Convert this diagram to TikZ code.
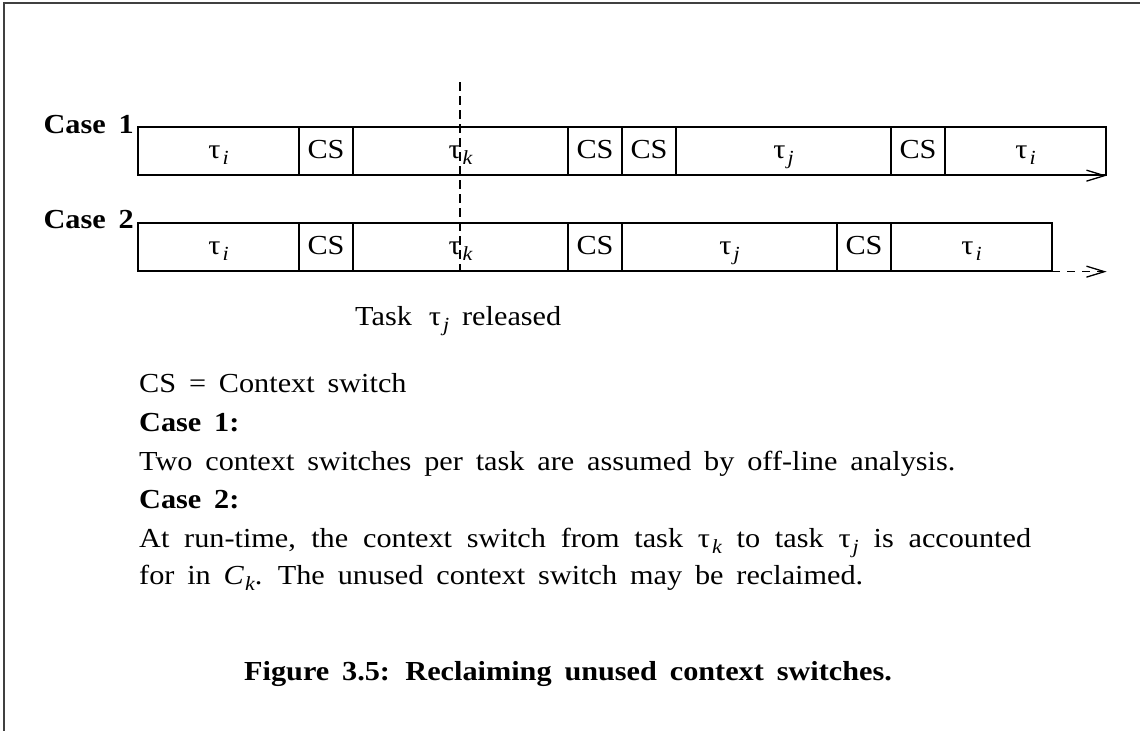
\documentclass[tikz,border=0pt]{standalone}
\usepackage{fontspec}
\setmainfont{Liberation Serif}[FakeStretch=1.1, WordSpace=1.7]
\usetikzlibrary{arrows.meta}

% task symbol with a lowered italic index
\newcommand{\tsk}[1]{τ\kern2pt\raisebox{-6pt}{\fontsize{20}{20}\selectfont\itshape #1}}
\newcommand{\csub}[2]{\textit{#1}\kern1pt\raisebox{-6pt}{\fontsize{20}{20}\selectfont\itshape #2}}

\begin{document}
\begin{tikzpicture}[x=1pt, y=-1pt,
  seg/.style={draw, line width=1.3pt, rectangle, inner sep=0pt,
    minimum height=48pt, text height=18pt, text depth=4pt,
    font=\fontsize{27.5}{30}\selectfont},
  axis/.style={line width=1.3pt, dash pattern=on 8pt off 7pt,
    -{Straight Barb[length=18pt, width=11pt, line width=1.3pt]}},
  release/.style={line width=1.3pt, dash pattern=on 9pt off 5pt},
  txt/.style={inner sep=0pt, anchor=base west, font=\fontsize{27.5}{30}\selectfont},
  boldtxt/.style={txt, font=\fontsize{27.5}{30}\selectfont\bfseries},
  casehead/.style={inner sep=0pt, anchor=base east, font=\fontsize{27.5}{30}\selectfont\bfseries},
  frame/.style={line width=2pt, black!75}
]
\useasboundingbox (0,0) rectangle (1140,731);

% page frame (top and left edges)
\coordinate (ftl) at (3.5,2.5);
\coordinate (ftr) at (1140,2.5);
\coordinate (fbl) at (3.5,731);
\draw[frame] (ftr) -- (ftl) -- (fbl);

% ---------- Case 1 schedule ----------
\node[seg, minimum width=161pt] (r1a) at (218.5,151) {\tsk{i}};
\node[seg, minimum width=54pt]  (r1b) at (326,151)   {CS};
\node[seg, minimum width=215pt] (r1c) at (460.5,151) {\tsk{k}};
\node[seg, minimum width=54pt]  (r1d) at (595,151)   {CS};
\node[seg, minimum width=54pt]  (r1e) at (649,151)   {CS};
\node[seg, minimum width=215pt] (r1f) at (783.5,151) {\tsk{j}};
\node[seg, minimum width=54pt]  (r1g) at (918,151)   {CS};
\node[seg, minimum width=161pt] (r1h) at (1025.5,151) {\tsk{i}};
\draw[axis] (r1a.south west) -- (r1h.south east);
\node[casehead] (c1) at (134,133) {Case 1};

% ---------- Case 2 schedule ----------
\node[seg, minimum width=161pt] (r2a) at (218.5,247) {\tsk{i}};
\node[seg, minimum width=54pt]  (r2b) at (326,247)   {CS};
\node[seg, minimum width=215pt] (r2c) at (460.5,247) {\tsk{k}};
\node[seg, minimum width=54pt]  (r2d) at (595,247)   {CS};
\node[seg, minimum width=215pt] (r2e) at (729.5,247) {\tsk{j}};
\node[seg, minimum width=54pt]  (r2f) at (864,247)   {CS};
\node[seg, minimum width=161pt] (r2g) at (971.5,247) {\tsk{i}};
\coordinate (end2) at (r1h.south east |- r2g.south east);
\draw[axis] (r2a.south west) -- (end2);
\node[casehead] (c2) at (134,228) {Case 2};

% release instant of task j
\coordinate (rel) at (460,82);
\draw[release] (rel) -- (rel |- r2c.south);
\node[txt] (reltxt) at (355,325) {Task\hspace{17pt}\tsk{j}\hspace{13pt}released};

% ---------- legend and notes ----------
\node[txt] (l1) at (139,392) {CS = Context switch};
\node[boldtxt] (l2) at (139,431) {Case 1:};
\node[txt] (l3) at (139,470) {Two context switches per task are assumed by off-line analysis.};
\node[boldtxt] (l4) at (139,508) {Case 2:};
\node[txt] (l5) at (139,547) {\makebox[892pt][s]{At run-time, the context switch from task \tsk{k} to task \tsk{j} is accounted}};
\node[txt] (l6) at (139,584) {for in \csub{C}{k}. The unused context switch may be reclaimed.};

% caption
\node[boldtxt] (cap) at (244,680) {Figure 3.5: Reclaiming unused context switches.};
\end{tikzpicture}
\end{document}
